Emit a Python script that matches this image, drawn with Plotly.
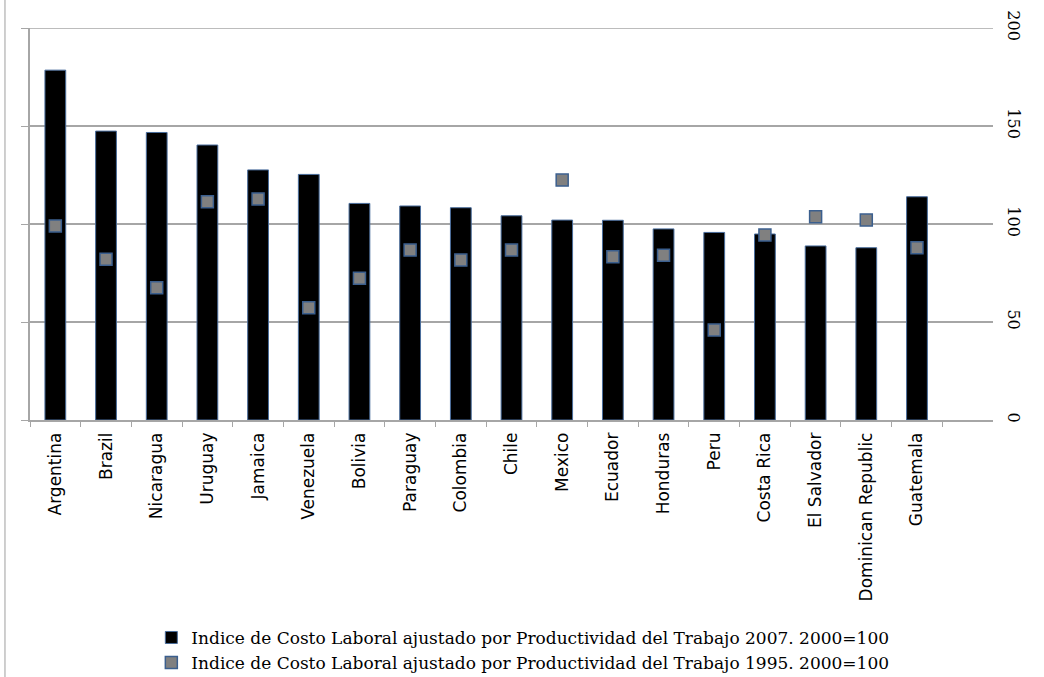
import plotly.graph_objects as go

# Countries in the order shown
countries = [
    "Argentina", "Brazil", "Nicaragua", "Uruguay", "Jamaica", "Venezuela",
    "Bolivia", "Paraguay", "Colombia", "Chile", "Mexico", "Ecuador",
    "Honduras", "Peru", "Costa Rica", "El Salvador", "Dominican Republic",
    "Guatemala",
]

# Indice 2007 (bars) and 1995 (square markers), 2000=100
index_2007 = [178.5, 147.4, 146.7, 140.3, 127.6, 125.3, 110.5, 109.2, 108.3,
              104.2, 102.0, 101.9, 97.5, 95.7, 94.9, 88.8, 87.9, 113.9]
index_1995 = [99.0, 82.0, 67.5, 111.4, 112.8, 57.3, 72.3, 86.7, 81.6,
              86.7, 122.4, 83.3, 84.0, 45.9, 94.4, 103.7, 102.0, 87.9]

y_ticks = [0, 50, 100, 150, 200]

name_2007 = "Indice de Costo Laboral ajustado por Productividad del Trabajo 2007. 2000=100"
name_1995 = "Indice de Costo Laboral ajustado por Productividad del Trabajo 1995. 2000=100"

GRID = "#a6a6a6"

fig = go.Figure()

fig.add_trace(
    go.Bar(
        x=countries,
        y=index_2007,
        name=name_2007,
        marker=dict(color="#000000", line=dict(color="#4a6d9c", width=1)),
        yaxis="y",
    )
)

fig.add_trace(
    go.Scatter(
        x=countries,
        y=index_1995,
        name=name_1995,
        mode="markers",
        marker=dict(symbol="square", size=12, color="#808080",
                    line=dict(color="#3b5f8e", width=1.5)),
        yaxis="y2",
    )
)

fig.update_layout(
    width=1044,
    height=677,
    paper_bgcolor="#ffffff",
    plot_bgcolor="#ffffff",
    margin=dict(l=30, r=51, t=28, b=257, autoexpand=False),
    bargap=0.59,
    showlegend=True,
    legend=dict(
        orientation="v",
        x=0.126,
        xanchor="left",
        y=-0.51,
        yanchor="top",
        font=dict(family="DejaVu Serif", size=17, color="#000000"),
        bgcolor="rgba(0,0,0,0)",
        tracegroupgap=0,
        itemclick=False,
    ),
    xaxis=dict(
        type="category",
        range=[-0.5, 18.5],
        automargin=False,
        showgrid=False,
        showline=True,
        linecolor=GRID,
        linewidth=1.5,
        ticks="outside",
        tickson="boundaries",
        ticklen=5,
        tickcolor=GRID,
        tickangle=-90,
        tickfont=dict(family="DejaVu Sans", size=17, color="#000000"),
        ticklabelstandoff=4,
    ),
    yaxis=dict(
        range=[0, 200],
        automargin=False,
        tickvals=y_ticks,
        showticklabels=False,
        showgrid=True,
        gridcolor=GRID,
        gridwidth=1.5,
        zeroline=False,
        showline=True,
        linecolor=GRID,
        linewidth=1.5,
        ticks="outside",
        ticklen=7,
        tickcolor=GRID,
    ),
    yaxis2=dict(
        overlaying="y",
        side="right",
        range=[0, 200],
        automargin=False,
        tickvals=y_ticks,
        ticktext=[str(v) for v in y_ticks],
        showgrid=False,
        zeroline=False,
        showline=False,
        ticks="",
        tickangle=90,
        tickfont=dict(family="DejaVu Serif", size=16, color="#000000"),
        ticklabelstandoff=11,
    ),
    shapes=[
        # top gridline at 200
        dict(type="line", xref="paper", yref="y",
             x0=0, x1=1, y0=y_ticks[-1], y1=y_ticks[-1],
             line=dict(color=GRID, width=1.5), layer="below"),
        # left border of the chart area
        dict(type="line", xref="paper", yref="paper",
             x0=-0.026, x1=-0.026, y0=-0.66, y1=1.08,
             line=dict(color="#bfbfbf", width=1.5)),
    ],
)

fig.write_html(
    "out.html",
    config={"displayModeBar": False},
    post_script="document.body.style.margin='0';",
)
